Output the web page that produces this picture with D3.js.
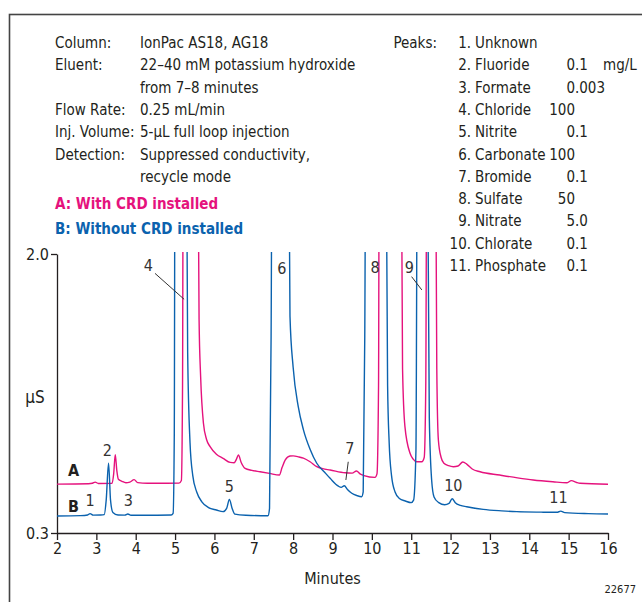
<!DOCTYPE html>
<html>
<head>
<meta charset="utf-8">
<script src="https://cdn.jsdelivr.net/npm/d3@7"></script>
<style>
	body { margin: 0; background: #fff; }
	svg { display: block; }
	text { font-family: "Liberation Sans Narrow", "DejaVu Sans Condensed", "Arial Narrow", sans-serif; fill: #231f20; }
</style>
</head>
<body>
<div id="chart"></div>
<script>
"use strict";

// trace A (with CRD), [minutes, uS]
var traceA = [
	[2.00, 0.598], [2.80, 0.600], [2.90, 0.603], [2.97, 0.610], [3.05, 0.602], [3.40, 0.603],
	[3.44, 0.66], [3.48, 0.777], [3.52, 0.68], [3.56, 0.627], [3.65, 0.615], [3.75, 0.606],
	[3.85, 0.610], [3.96, 0.625], [4.05, 0.607], [4.30, 0.603], [5.10, 0.604], [5.16, 0.62],
	[5.19, 1.2], [5.21, 3.0], [5.57, 3.0], [5.61, 1.6], [5.65, 1.25], [5.72, 0.97], [5.80, 0.87],
	[5.89, 0.826], [6.05, 0.78], [6.22, 0.755], [6.40, 0.73], [6.50, 0.728], [6.56, 0.75],
	[6.61, 0.775], [6.68, 0.73], [6.78, 0.694], [6.95, 0.682], [7.16, 0.673], [7.40, 0.663],
	[7.65, 0.653], [7.72, 0.70], [7.80, 0.745], [7.92, 0.769], [8.00, 0.770], [8.15, 0.763],
	[8.26, 0.756], [8.43, 0.734], [8.60, 0.704], [8.75, 0.692], [8.94, 0.684], [9.32, 0.667],
	[9.50, 0.665], [9.61, 0.678], [9.70, 0.66], [9.80, 0.650], [10.08, 0.639], [10.13, 0.66],
	[10.17, 1.2], [10.19, 3.0], [10.74, 3.0], [10.78, 1.3], [10.84, 0.95], [10.97, 0.786],
	[11.05, 0.75], [11.14, 0.734], [11.27, 0.734], [11.33, 0.76], [11.37, 1.2], [11.40, 3.0],
	[11.61, 3.0], [11.65, 1.3], [11.69, 0.867], [11.76, 0.76], [11.83, 0.725], [11.95, 0.71],
	[12.07, 0.704], [12.19, 0.708], [12.31, 0.733], [12.41, 0.72], [12.55, 0.69], [12.75, 0.673],
	[13.25, 0.653], [13.70, 0.636], [14.10, 0.623], [14.60, 0.612], [14.95, 0.606], [15.07, 0.619],
	[15.20, 0.608], [15.29, 0.603], [16.00, 0.597]
];

// trace B (without CRD)
var traceB = [
	[2.00, 0.404], [2.60, 0.406], [2.78, 0.410], [2.84, 0.418], [2.92, 0.409], [3.10, 0.410],
	[3.20, 0.412], [3.25, 0.50], [3.31, 0.726], [3.36, 0.50], [3.42, 0.425], [3.55, 0.410],
	[3.72, 0.409], [3.80, 0.416], [3.88, 0.408], [4.20, 0.408], [4.90, 0.410], [4.95, 0.42],
	[4.98, 0.9], [5.00, 3.0], [5.28, 3.0], [5.32, 1.4], [5.38, 0.85], [5.45, 0.65], [5.55, 0.55],
	[5.68, 0.49], [5.85, 0.455], [6.05, 0.44], [6.22, 0.430], [6.31, 0.45], [6.38, 0.505],
	[6.45, 0.45], [6.52, 0.415], [6.80, 0.408], [7.36, 0.405], [7.40, 0.45], [7.44, 1.5],
	[7.47, 3.0], [7.88, 3.0], [7.92, 1.62], [8.00, 1.31], [8.13, 1.07], [8.26, 0.93], [8.43, 0.81],
	[8.60, 0.725], [8.80, 0.67], [8.94, 0.633], [9.15, 0.585], [9.22, 0.578], [9.30, 0.588],
	[9.38, 0.565], [9.49, 0.542], [9.62, 0.528], [9.74, 0.521], [9.78, 0.55], [9.82, 1.5],
	[9.85, 3.0], [10.35, 3.0], [10.40, 1.2], [10.44, 0.85], [10.50, 0.65], [10.59, 0.55],
	[10.70, 0.51], [10.85, 0.495], [11.00, 0.485], [11.06, 0.50], [11.12, 0.8], [11.16, 3.0],
	[11.40, 3.0], [11.46, 1.0], [11.52, 0.62], [11.58, 0.52], [11.70, 0.485], [11.85, 0.472],
	[11.96, 0.48], [12.04, 0.509], [12.12, 0.485], [12.25, 0.468], [12.41, 0.46], [12.83, 0.444],
	[13.30, 0.435], [13.68, 0.430], [14.30, 0.427], [14.70, 0.426], [14.80, 0.433], [14.90, 0.424],
	[15.50, 0.418], [16.00, 0.416]
];

var xTicks = [2, 3, 4, 5, 6, 7, 8, 9, 10, 11, 12, 13, 14, 15, 16];
var yTicks = [0.3, 2.0];

// peak number labels, placed in data units
var peakLabels = [
	{ text: "1", t: 2.84, v: 0.501 },
	{ text: "2", t: 3.28, v: 0.806 },
	{ text: "3", t: 3.81, v: 0.501 },
	{ text: "4", t: 4.32, v: 1.933 },
	{ text: "5", t: 6.38, v: 0.586 },
	{ text: "6", t: 7.71, v: 1.913 },
	{ text: "7", t: 9.44, v: 0.816 },
	{ text: "8", t: 10.08, v: 1.923 },
	{ text: "9", t: 10.95, v: 1.923 },
	{ text: "10", t: 12.07, v: 0.592 },
	{ text: "11", t: 14.74, v: 0.521 }
];
var leaders = [
	[[4.49, 1.882], [5.23, 1.724]],
	[[11.01, 1.862], [11.27, 1.781]],
	[[9.40, 0.734], [9.34, 0.623]]
];

var conditionKeys = ["Column:", "Eluent:", "", "Flow Rate:", "Inj. Volume:", "Detection:", ""];
var conditionValues = ["IonPac AS18, AG18", "22\u201340 mM potassium hydroxide", "from 7\u20138 minutes",
	"0.25 mL/min", "5-\u03bcL full loop injection", "Suppressed conductivity,", "recycle mode"];

var peakNames = ["Unknown", "Fluoride", "Formate", "Chloride", "Nitrite", "Carbonate",
	"Bromide", "Sulfate", "Nitrate", "Chlorate", "Phosphate"];
var peakConc = ["", "0.1", "0.003", "100", "0.1", "100", "0.1", "50", "5.0", "0.1", "0.1"];

var colorA = "#e5127d";
var colorB = "#0b62ae";

//
// Setup Variables
//
var canvasWidth = 642, canvasHeight = 602;
var margin = { left: 57, top: 254 };
var width = 551, height = 279;

var x = d3.scaleLinear().domain([2, 16]).range([0, width]);
var y = d3.scaleLinear().domain([0.3, 2.0]).range([height, 0]);

var svg = d3.select("#chart")
	.append("svg")
		.attr("width", canvasWidth)
		.attr("height", canvasHeight);

// outer frame (runs off the right and bottom)
svg.append("rect")
	.attr("x", 9.5).attr("y", 14.5)
	.attr("width", 700).attr("height", 700)
	.attr("fill", "none")
	.attr("stroke", "#444")
	.attr("stroke-width", 1.6);

//
// Conditions text
//
var lineStep = 22.3;
var info = svg.append("g").style("font-size", "15px");
conditionValues.forEach(function(v, i) {
	var yy = 48 + i * lineStep;
	if (conditionKeys[i]) info.append("text").attr("x", 55).attr("y", yy).text(conditionKeys[i]);
	info.append("text").attr("x", 140).attr("y", yy).text(v);
});
info.append("text").attr("x", 55).attr("y", 209).attr("font-weight", "bold")
	.style("fill", colorA).text("A: With CRD installed");
info.append("text").attr("x", 55).attr("y", 234).attr("font-weight", "bold")
	.style("fill", colorB).text("B: Without CRD installed");

info.append("text").attr("x", 437).attr("y", 48).attr("text-anchor", "end").text("Peaks:");
peakNames.forEach(function(name, i) {
	var yy = 48 + i * lineStep;
	info.append("text").attr("x", 471).attr("y", yy).attr("text-anchor", "end").text((i + 1) + ".");
	info.append("text").attr("x", 475).attr("y", yy).text(name);
	var c = peakConc[i];
	if (c) {
		var parts = c.split(".");
		info.append("text").attr("x", 575).attr("y", yy).attr("text-anchor", "end").text(parts[0]);
		if (parts.length > 1) info.append("text").attr("x", 575).attr("y", yy).text("." + parts[1]);
	}
});
info.append("text").attr("x", 603).attr("y", 48 + lineStep).text("mg/L");

//
// Plot area
//
var g = svg.append("g")
	.attr("transform", "translate(" + margin.left + "," + margin.top + ")");

g.append("clipPath").attr("id", "clip")
	.append("rect").attr("x", 0).attr("y", -2).attr("width", width).attr("height", height + 2);

//
// Draw X-Axis
//
var xAxis = g.append("g")
	.attr("transform", "translate(0," + height + ")")
	.call(d3.axisBottom(x).tickValues(xTicks).tickFormat(d3.format("d")).tickSize(7).tickSizeOuter(0).tickPadding(3));

//
// Draw Y-Axis
//
var yAxis = g.append("g")
	.call(d3.axisLeft(y).tickValues(yTicks).tickFormat(d3.format(".1f")).tickSize(6).tickSizeOuter(0).tickPadding(2));

[xAxis, yAxis].forEach(function(ax) {
	ax.selectAll("path, line").attr("stroke", "#231f20").attr("stroke-width", 1.3);
	ax.selectAll("text").style("font-size", "16px").style("font-family", null).attr("fill", "#231f20");
});

g.append("text")
	.attr("x", x(9)).attr("y", height + 51)
	.attr("text-anchor", "middle")
	.style("font-size", "16px")
	.text("Minutes");

g.append("text")
	.attr("x", -22).attr("y", y(1.13) + 6)
	.attr("text-anchor", "middle")
	.style("font-size", "17px")
	.text("\u03bcS");

svg.append("text")
	.attr("x", 636).attr("y", 593)
	.attr("text-anchor", "end")
	.style("font-size", "11px")
	.text("22677");

//
// Draw Traces
//
var line = d3.line()
	.x(function(d) { return x(d[0]); })
	.y(function(d) { return y(d[1]); })
	.curve(d3.curveMonotoneX);

var traces = g.append("g").attr("clip-path", "url(#clip)");
traces.append("path").datum(traceA)
	.attr("d", line).attr("fill", "none").attr("stroke", colorA).attr("stroke-width", 1.4);
traces.append("path").datum(traceB)
	.attr("d", line).attr("fill", "none").attr("stroke", colorB).attr("stroke-width", 1.4);

//
// Peak labels
//
g.selectAll(".peak")
	.data(peakLabels)
  .enter().append("text")
	.attr("class", "peak")
	.attr("x", function(d) { return x(d.t); })
	.attr("y", function(d) { return y(d.v) + 6; })
	.attr("text-anchor", "middle")
	.style("font-size", "16px")
	.style("fill", "#333")
	.text(function(d) { return d.text; });

g.selectAll(".leader")
	.data(leaders)
  .enter().append("line")
	.attr("class", "leader")
	.attr("x1", function(d) { return x(d[0][0]); })
	.attr("y1", function(d) { return y(d[0][1]); })
	.attr("x2", function(d) { return x(d[1][0]); })
	.attr("y2", function(d) { return y(d[1][1]); })
	.attr("stroke", "#333")
	.attr("stroke-width", 1);

g.append("text").attr("x", x(2.42)).attr("y", y(0.684) + 6)
	.attr("text-anchor", "middle").attr("font-weight", "bold").style("font-size", "16px").text("A");
g.append("text").attr("x", x(2.42)).attr("y", y(0.466) + 6)
	.attr("text-anchor", "middle").attr("font-weight", "bold").style("font-size", "16px").text("B");
</script>
</body>
</html>
